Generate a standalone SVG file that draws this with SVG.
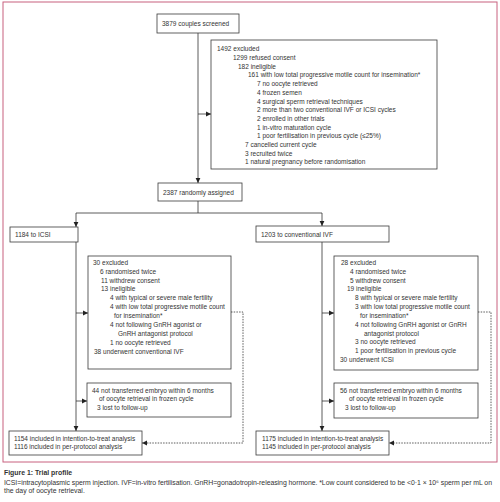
<svg xmlns="http://www.w3.org/2000/svg" width="500" height="502" viewBox="0 0 500 502">
<defs>
<marker id="ah" markerWidth="6" markerHeight="6" refX="5" refY="3" orient="auto" markerUnits="userSpaceOnUse">
<path d="M0,0.6 L5,3 L0,5.4 Z" fill="#222"/>
</marker>
<style>
.box{fill:#fff;stroke:#3a3a3a;stroke-width:0.8}
.t{font-family:"Liberation Sans",Arial,sans-serif;font-size:6.5px;fill:#333}
.c{fill:none;stroke:#333;stroke-width:0.8}
.d{fill:none;stroke:#333;stroke-width:0.8;stroke-dasharray:1.5 1.2}
.cap{font-family:"Liberation Sans",Arial,sans-serif;font-size:6.9px;fill:#333}
</style>
</defs>
<rect x="3" y="2" width="494" height="460" fill="#fff" stroke="#c8607f" stroke-width="1"/>

<g id="connectors">
<path class="c" d="M198,33 V183" marker-end="url(#ah)"/>
<path class="c" d="M198,114 H211" marker-end="url(#ah)"/>
<path class="c" d="M198,201 V213 M76,213 H322"/>
<path class="c" d="M76,213 V227" marker-end="url(#ah)"/>
<path class="c" d="M322,213 V226" marker-end="url(#ah)"/>
<path class="c" d="M76,242 V431" marker-end="url(#ah)"/>
<path class="c" d="M76,313 H88" marker-end="url(#ah)"/>
<path class="c" d="M76,401 H87" marker-end="url(#ah)"/>
<path class="c" d="M322,242 V431" marker-end="url(#ah)"/>
<path class="c" d="M322,313 H334" marker-end="url(#ah)"/>
<path class="c" d="M322,401 H334" marker-end="url(#ah)"/>
<path class="d" d="M231,312 H243 V443 H142" marker-end="url(#ah)"/>
<path class="d" d="M478,312 H491 V443 H389" marker-end="url(#ah)"/>
</g>

<g id="screened">
<rect class="box" x="157" y="14" width="82" height="19"/>
<text class="t" x="162" y="26">3879 couples screened</text>
</g>

<g id="excluded1492">
<rect class="box" x="211" y="40" width="226" height="129"/>
<text class="t" x="217" y="51.3">1492 excluded</text>
<text class="t" x="233" y="60">1299 refused consent</text>
<text class="t" x="238" y="68.7">182 ineligible</text>
<text class="t" x="248" y="77.4">161 with low total progressive motile count for insemination*</text>
<text class="t" x="257" y="86.1">7 no oocyte retrieved</text>
<text class="t" x="257" y="94.8">4 frozen semen</text>
<text class="t" x="257" y="103.5">4 surgical sperm retrieval techniques</text>
<text class="t" x="257" y="112.2">2 more than two conventional IVF or ICSI cycles</text>
<text class="t" x="257" y="120.9">2 enrolled in other trials</text>
<text class="t" x="257" y="129.6">1 in-vitro maturation cycle</text>
<text class="t" x="257" y="138.3">1 poor fertilisation in previous cycle (≤25%)</text>
<text class="t" x="245" y="147">7 cancelled current cycle</text>
<text class="t" x="245" y="155.7">3 recruited twice</text>
<text class="t" x="245" y="164.4">1 natural pregnancy before randomisation</text>
</g>

<g id="randomised">
<rect class="box" x="158" y="183" width="84" height="18"/>
<text class="t" x="163" y="194.5">2387 randomly assigned</text>
</g>

<g id="icsi">
<rect class="box" x="10" y="227" width="68" height="15"/>
<text class="t" x="15" y="236.5">1184 to ICSI</text>
</g>

<g id="ivf">
<rect class="box" x="256" y="226" width="133" height="16"/>
<text class="t" x="261" y="236.5">1203 to conventional IVF</text>
</g>

<g id="excluded30">
<rect class="box" x="88" y="256" width="143" height="113"/>
<text class="t" x="93" y="265.3">30 excluded</text>
<text class="t" x="100" y="274.3">6 randomised twice</text>
<text class="t" x="101" y="283.3">11 withdrew consent</text>
<text class="t" x="101" y="291.3">13 ineligible</text>
<text class="t" x="110" y="300.3">4 with typical or severe male fertility</text>
<text class="t" x="110" y="309.3">4 with low total progressive motile count</text>
<text class="t" x="114" y="318.3">for insemination*</text>
<text class="t" x="110" y="327.3">4 not following GnRH agonist or</text>
<text class="t" x="118" y="336.3">GnRH antagonist protocol</text>
<text class="t" x="110" y="345.3">1 no oocyte retrieved</text>
<text class="t" x="94" y="354.3">38 underwent conventional IVF</text>
</g>

<g id="excluded28">
<rect class="box" x="334" y="256" width="144" height="114"/>
<text class="t" x="341" y="265.3">28 excluded</text>
<text class="t" x="350" y="274.3">4 randomised twice</text>
<text class="t" x="350" y="283.3">5 withdrew consent</text>
<text class="t" x="347" y="291.3">19 ineligible</text>
<text class="t" x="355" y="300.3">8 with typical or severe male fertility</text>
<text class="t" x="355" y="309.3">3 with low total progressive motile count</text>
<text class="t" x="360" y="318.3">for insemination*</text>
<text class="t" x="355" y="327.3">4 not following GnRH agonist or GnRH</text>
<text class="t" x="364" y="336.3">antagonist protocol</text>
<text class="t" x="355" y="344.3">3 no oocyte retrieved</text>
<text class="t" x="355" y="353.3">1 poor fertilisation in previous cycle</text>
<text class="t" x="340" y="362.3">30 underwent ICSI</text>
</g>

<g id="nottransferred44">
<rect class="box" x="87" y="383" width="144" height="34"/>
<text class="t" x="92" y="393.3">44 not transferred embryo within 6 months</text>
<text class="t" x="99" y="401.3">of oocyte retrieval in frozen cycle</text>
<text class="t" x="97" y="410.3">3 lost to follow-up</text>
</g>

<g id="nottransferred56">
<rect class="box" x="334" y="383" width="144" height="35"/>
<text class="t" x="340" y="393.3">56 not transferred embryo within 6 months</text>
<text class="t" x="349" y="401.3">of oocyte retrieval in frozen cycle</text>
<text class="t" x="345" y="410.3">3 lost to follow-up</text>
</g>

<g id="analysisICSI">
<rect class="box" x="9" y="431" width="133" height="24"/>
<text class="t" x="14" y="441.3">1154 included in intention-to-treat analysis</text>
<text class="t" x="14" y="449.3">1116 included in per-protocol analysis</text>
</g>

<g id="analysisIVF">
<rect class="box" x="256" y="431" width="133" height="24"/>
<text class="t" x="262" y="441.3">1175 included in intention-to-treat analysis</text>
<text class="t" x="262" y="449.3">1145 included in per-protocol analysis</text>
</g>

<g id="caption">
<text class="cap" x="4" y="474.5" font-weight="bold" fill="#222">Figure 1: Trial profile</text>
<text class="cap" x="4" y="484.5" textLength="488" lengthAdjust="spacing">ICSI=intracytoplasmic sperm injection. IVF=in-vitro fertilisation. GnRH=gonadotropin-releasing hormone. *Low count considered to be &lt;0·1 × 10⁶ sperm per mL on</text>
<text class="cap" x="4" y="492.5">the day of oocyte retrieval.</text>
</g>
</svg>
